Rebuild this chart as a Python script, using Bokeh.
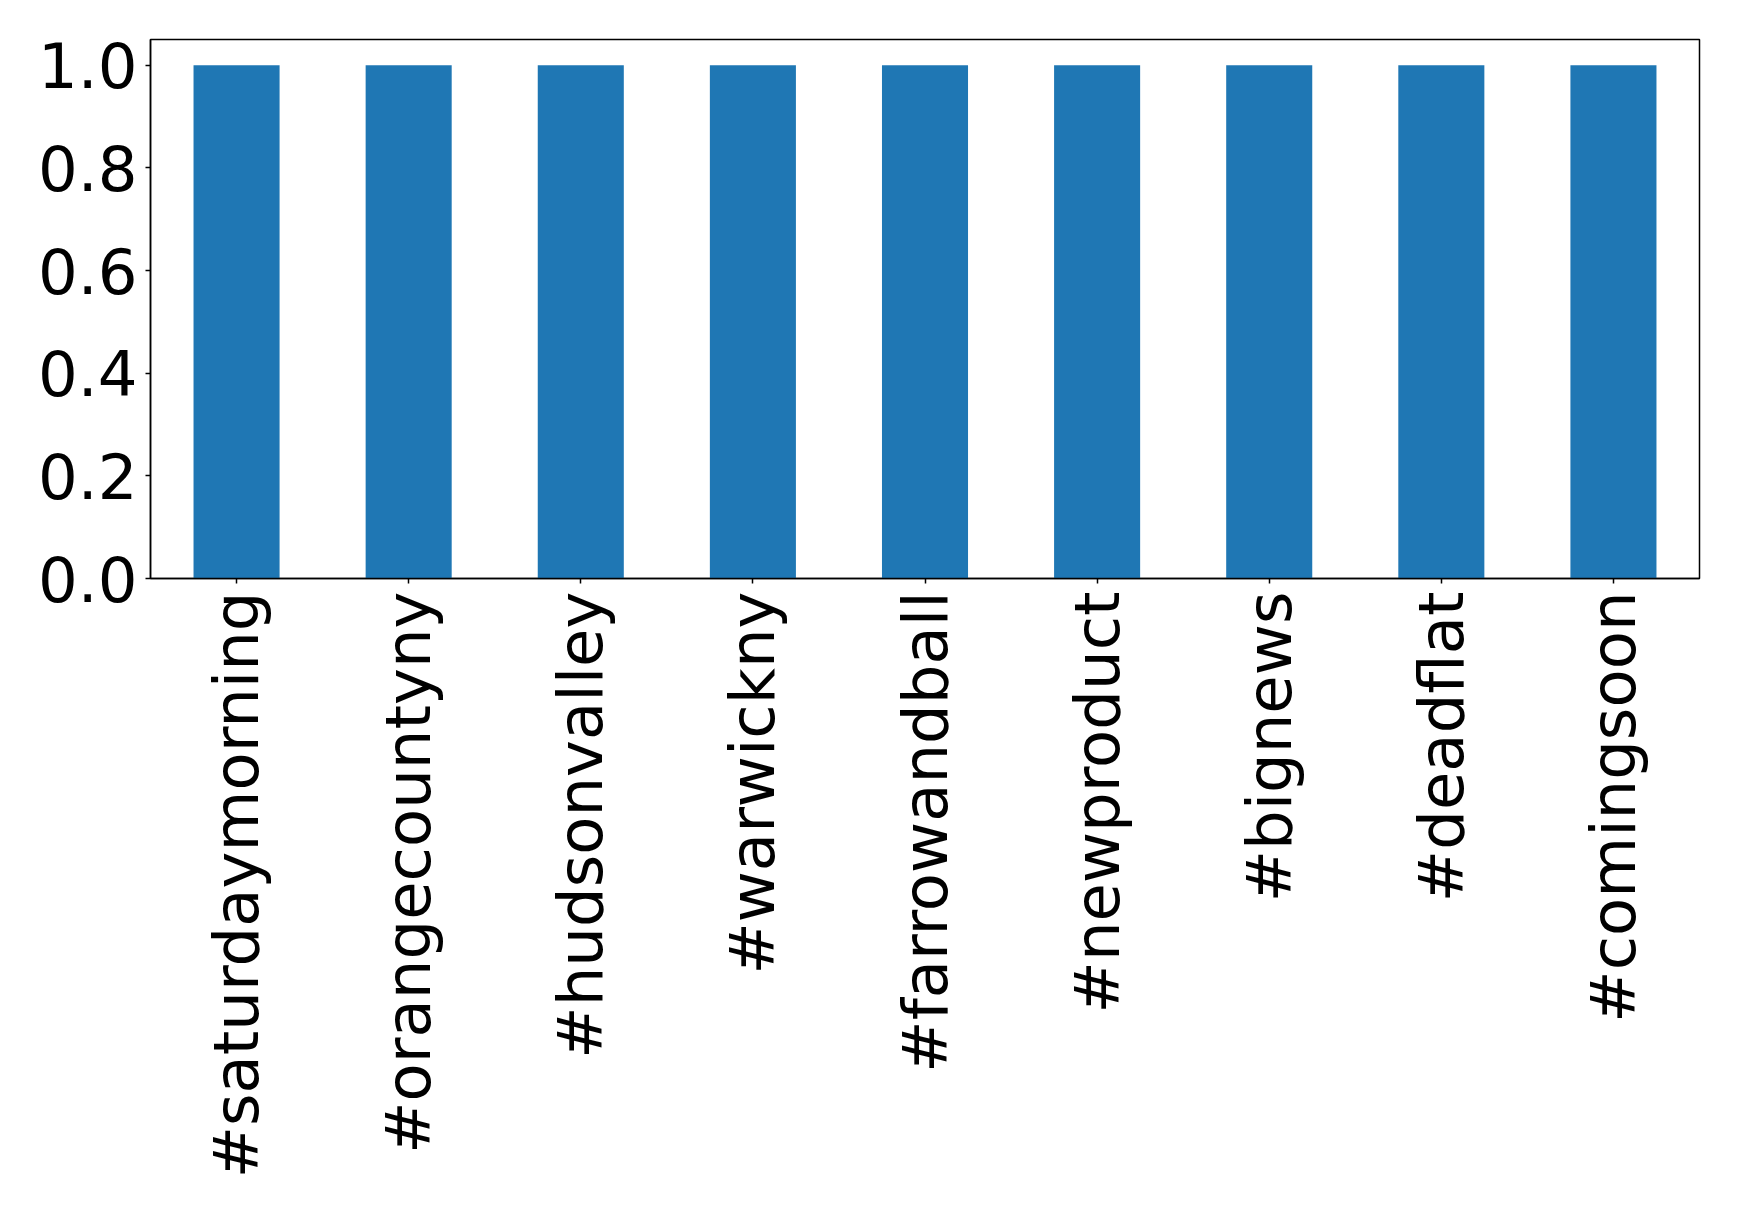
import math
from bokeh.plotting import figure
from bokeh.models import Range1d, FactorRange, FixedTicker, NumeralTickFormatter, ColumnDataSource
from bokeh.embed import file_html
from bokeh.resources import INLINE

hashtags = ["#saturdaymorning", "#orangecountyny", "#hudsonvalley", "#warwickny",
            "#farrowandball", "#newproduct", "#bignews", "#deadflat", "#comingsoon"]
counts = [1.0, 1.0, 1.0, 1.0, 1.0, 1.0, 1.0, 1.0, 1.0]
y_ticks = [0.0, 0.2, 0.4, 0.6, 0.8, 1.0]

src = ColumnDataSource(dict(x=hashtags, top=counts))

p = figure(x_range=FactorRange(*hashtags), y_range=Range1d(0, 1.05),
           frame_width=1549, frame_height=539,
           min_border_left=150, min_border_right=24, min_border_top=39, min_border_bottom=620,
           output_backend="svg", toolbar_location=None)

p.vbar(x="x", top="top", bottom=0, width=0.5, source=src,
       fill_color="#1f77b4", line_color=None)

p.xgrid.visible = False
p.ygrid.visible = False
p.outline_line_color = "black"
p.outline_line_width = 1.5
p.outline_line_alpha = 1.0

for ax in (p.xaxis[0], p.yaxis[0]):
    ax.axis_line_color = "black"
    ax.axis_line_width = 1.5
    ax.major_tick_line_color = "black"
    ax.major_tick_line_width = 1.5
    ax.major_tick_in = 0
    ax.major_tick_out = 5
    ax.minor_tick_line_color = None
    ax.major_label_text_font = "DejaVu Sans"
    ax.major_label_text_font_size = "62.5px"
    ax.major_label_text_color = "black"

p.yaxis.ticker = FixedTicker(ticks=y_ticks)
p.yaxis.formatter = NumeralTickFormatter(format="0.0")
p.yaxis.major_label_standoff = 8
p.xaxis.major_label_orientation = math.pi / 2
p.xaxis.major_label_standoff = 8

open("out.html", "w").write(file_html(p, INLINE))
